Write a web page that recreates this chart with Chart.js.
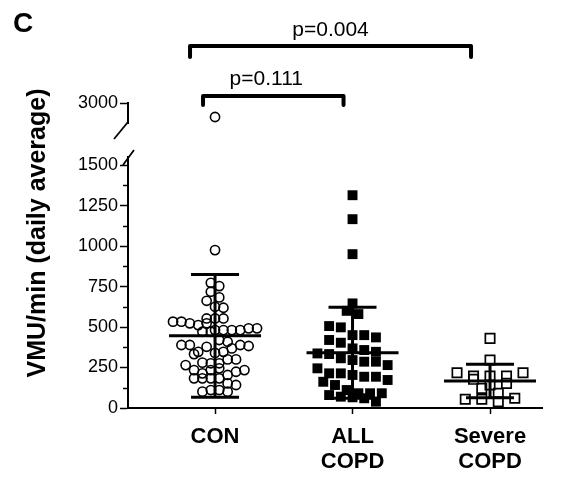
<!DOCTYPE html>
<html>
<head>
<meta charset="utf-8">
<script src="https://cdn.jsdelivr.net/npm/chart.js@4/dist/chart.umd.min.js"></script>
<style>
html,body{margin:0;padding:0;background:#fff;}
#c{display:block;}
</style>
</head>
<body>
<canvas id="c" width="580" height="481"></canvas>
<script>
// ---------------- data ----------------
const categories = [['CON'], ['ALL', 'COPD'], ['Severe', 'COPD']];
const conValues = [
  975, 773, 753, 718, 683, 662, 625, 619,
  553, 533, 533, 553, 553, 523, 512, 523, 481, 481, 471, 471, 481, 481, 492, 492,
  420, 409, 389, 389,
  333, 347, 378, 340, 347, 368, 389, 383,
  280, 276, 265, 276, 300, 300,
  234, 214, 234, 245, 204, 224, 234,
  183, 183, 183, 183,
  152, 142,
  101, 111, 111, 101
];
const conHighValues = [2650];
const allCopdValues = [
  1314, 1166, 950, 646, 600, 580, 506, 498, 450, 450, 436, 420, 403, 368, 358,
  347, 337, 333, 307, 296, 286, 286, 265, 245, 214, 214, 204, 193, 193, 173,
  162, 142, 111, 91, 91, 91, 80, 70, 66, 60, 39
];
const severeValues = [430, 296, 218, 197, 197, 197, 218, 177, 142, 152, 121, 91, 54, 54, 39, 60];
const meanValues = [446, 341, 167];
const sdValues = [379, 281, 103];
const yTickValues = [0, 250, 500, 750, 1000, 1250, 1500];
const yMinorTickValues = [125, 375, 625, 875, 1125, 1375];
const yTopTickValues = [3000];
const pLabels = ['p=0.004', 'p=0.111'];
const pPairs = [[0, 2], [0, 1]];
const yTitle = 'VMU/min (daily average)';
const panelLetter = 'C';

// ---------------- styling constants ----------------
const FONT = '"Liberation Sans", Arial, Helvetica, sans-serif';
Chart.defaults.font.family = FONT;
Chart.defaults.color = '#000';
const MEAN_HALF_PX = 46, CAP_HALF_PX = 24;
const swarmCol = [8.4, 11.7, 16.5];
const swarmRow = [11, 14, 10];

function groupData(vals, i) { return vals.map(v => ({x: i, y: v})); }

function errorBarPoints(unit) {
  const mh = MEAN_HALF_PX / unit, ch = CAP_HALF_PX / unit;
  const pts = [];
  meanValues.forEach((m, i) => {
    const s = sdValues[i];
    pts.push({x: i - mh, y: m}, {x: i + mh, y: m}, {x: i, y: null});
    pts.push({x: i - ch, y: m + s}, {x: i + ch, y: m + s}, {x: i, y: null});
    pts.push({x: i - ch, y: m - s}, {x: i + ch, y: m - s}, {x: i, y: null});
    pts.push({x: i, y: m - s}, {x: i, y: m + s}, {x: i, y: null});
  });
  return pts;
}

const annotate = {
  id: 'annotate',
  afterDraw(chart) {
    const {ctx, scales} = chart;
    const xs = scales.x, yl = scales.y, yt = scales.yTop;
    const X0 = chart.chartArea.left;
    ctx.save();
    ctx.fillStyle = '#000';
    ctx.strokeStyle = '#000';
    // panel letter
    ctx.font = 'bold 28px ' + FONT;
    ctx.textAlign = 'left'; ctx.textBaseline = 'top';
    ctx.fillText(panelLetter, 13, 10);
    // minor ticks
    ctx.lineWidth = 1.5;
    yMinorTickValues.forEach(v => {
      const py = Math.round(yl.getPixelForValue(v)) + 0.5;
      ctx.beginPath(); ctx.moveTo(X0 - 5, py); ctx.lineTo(X0, py); ctx.stroke();
    });
    // axis break marks
    ctx.lineWidth = 1.8;
    ctx.beginPath(); ctx.moveTo(X0, yt.bottom - 1); ctx.lineTo(X0 - 14, yt.bottom + 16); ctx.stroke();
    ctx.beginPath(); ctx.moveTo(X0 + 6, yl.top - 7); ctx.lineTo(X0 - 5, yl.top + 8); ctx.stroke();
    // significance brackets
    const bY = [46, 96], legY = [57, 105], tY = [30, 79];
    const offL = [-25, -12], offR = [-19, -9], tOff = [0, -7];
    ctx.lineWidth = 4; ctx.lineCap = 'round'; ctx.lineJoin = 'round';
    pPairs.forEach((pr, k) => {
      const x1 = xs.getPixelForValue(pr[0]) + offL[k];
      const x2 = xs.getPixelForValue(pr[1]) + offR[k];
      ctx.beginPath();
      ctx.moveTo(x1, legY[k]); ctx.lineTo(x1, bY[k]); ctx.lineTo(x2, bY[k]); ctx.lineTo(x2, legY[k]);
      ctx.stroke();
      ctx.font = '21px ' + FONT;
      ctx.textAlign = 'center'; ctx.textBaseline = 'middle';
      ctx.fillText(pLabels[k], (x1 + x2) / 2 + tOff[k], tY[k]);
    });
    // y title
    ctx.translate(38, 233);
    ctx.rotate(-Math.PI / 2);
    ctx.font = 'bold 25px ' + FONT;
    ctx.textAlign = 'center'; ctx.textBaseline = 'middle';
    ctx.fillText(yTitle, 0, 0);
    ctx.restore();
  }
};

const axisGrid = {display: true, drawOnChartArea: false, drawTicks: true, tickLength: 8, tickWidth: 1.5, tickColor: '#000'};
const axisBorder = {display: true, color: '#000', width: 2};
const plainTick = v => String(v);

const config = {
  type: 'scatter',
  data: {
    datasets: [
      {label: 'mean±SD', data: errorBarPoints(137.5), showLine: true, borderColor: '#000', borderWidth: 3,
       pointRadius: 0, pointHoverRadius: 0, spanGaps: false, borderCapStyle: 'butt', order: 0, yAxisID: 'y'},
      {label: 'CON', data: groupData(conValues, 0), pointStyle: 'circle', pointRadius: 4.6, borderWidth: 1.6,
       borderColor: '#000', backgroundColor: 'rgba(0,0,0,0)', order: 1, yAxisID: 'y'},
      {label: 'CON high', data: groupData(conHighValues, 0), pointStyle: 'circle', pointRadius: 4.6, borderWidth: 1.6,
       borderColor: '#000', backgroundColor: 'rgba(0,0,0,0)', order: 1, yAxisID: 'yTop'},
      {label: 'ALL COPD', data: groupData(allCopdValues, 1), pointStyle: 'rect', pointRadius: 7, borderWidth: 0,
       borderColor: '#000', backgroundColor: '#000', order: 1, yAxisID: 'y'},
      {label: 'Severe COPD', data: groupData(severeValues, 2), pointStyle: 'rect', pointRadius: 6.6, borderWidth: 1.7,
       borderColor: '#000', backgroundColor: 'rgba(0,0,0,0)', order: 1, yAxisID: 'y'}
    ]
  },
  options: {
    responsive: false,
    devicePixelRatio: 1,
    animation: false,
    events: [],
    layout: {padding: {top: 103, left: 0, right: 38, bottom: 0}},
    plugins: {legend: {display: false}, tooltip: {enabled: false}},
    scales: {
      x: {
        type: 'linear', position: 'bottom', min: -0.633, max: 2.378,
        afterBuildTicks: s => { s.ticks = categories.map((c, i) => ({value: i})); },
        ticks: {callback: v => categories[v] || '', font: {size: 22, weight: 'bold', lineHeight: 1.15},
                color: '#000', padding: 10, maxRotation: 0, autoSkip: false},
        grid: Object.assign({}, axisGrid, {tickLength: 6}),
        border: axisBorder,
        afterFit: s => { s.height = 73; }
      },
      y: {
        type: 'linear', position: 'left', stack: 'v', stackWeight: 251, min: 0, max: 1550,
        afterBuildTicks: s => { s.ticks = yTickValues.map(v => ({value: v})); },
        ticks: {callback: plainTick, font: {size: 18}, color: '#000', padding: 2},
        grid: axisGrid, border: axisBorder,
        afterFit: s => { s.width = 128; }
      },
      yGap: {
        type: 'linear', position: 'left', stack: 'v', stackWeight: 34, min: 0, max: 1, display: false
      },
      yTop: {
        type: 'linear', position: 'left', stack: 'v', stackWeight: 20, min: 2500, max: 3000,
        afterBuildTicks: s => { s.ticks = yTopTickValues.map(v => ({value: v})); },
        ticks: {callback: plainTick, font: {size: 18}, color: '#000', padding: 2},
        grid: axisGrid, border: axisBorder,
        afterFit: s => { s.width = 128; }
      }
    }
  },
  plugins: [annotate]
};

const chart = new Chart(document.getElementById('c'), config);

// Prism-like column scatter: bin points into pixel rows, centre each row.
function swarm(vals, gi, yScale, unit) {
  const rows = new Map();
  const bottom = yScale.getPixelForValue(0);
  vals.forEach((v, idx) => {
    const r = Math.floor((bottom - yScale.getPixelForValue(v)) / swarmRow[gi]);
    if (!rows.has(r)) rows.set(r, []);
    rows.get(r).push(idx);
  });
  const out = vals.map(v => ({x: gi, y: v}));
  rows.forEach(list => {
    const n = list.length;
    list.forEach((idx, k) => {
      out[idx].x = gi + ((k - (n - 1) / 2) * swarmCol[gi]) / unit;
    });
  });
  return out;
}

(function applySwarm() {
  const xs = chart.scales.x, yl = chart.scales.y;
  const unit = xs.getPixelForValue(1) - xs.getPixelForValue(0);
  const ds = chart.data.datasets;
  ds[0].data = errorBarPoints(unit);
  ds[1].data = swarm(conValues, 0, yl, unit);
  ds[3].data = swarm(allCopdValues, 1, yl, unit);
  ds[4].data = swarm(severeValues, 2, yl, unit);
  chart.update('none');
})();
</script>
</body>
</html>
